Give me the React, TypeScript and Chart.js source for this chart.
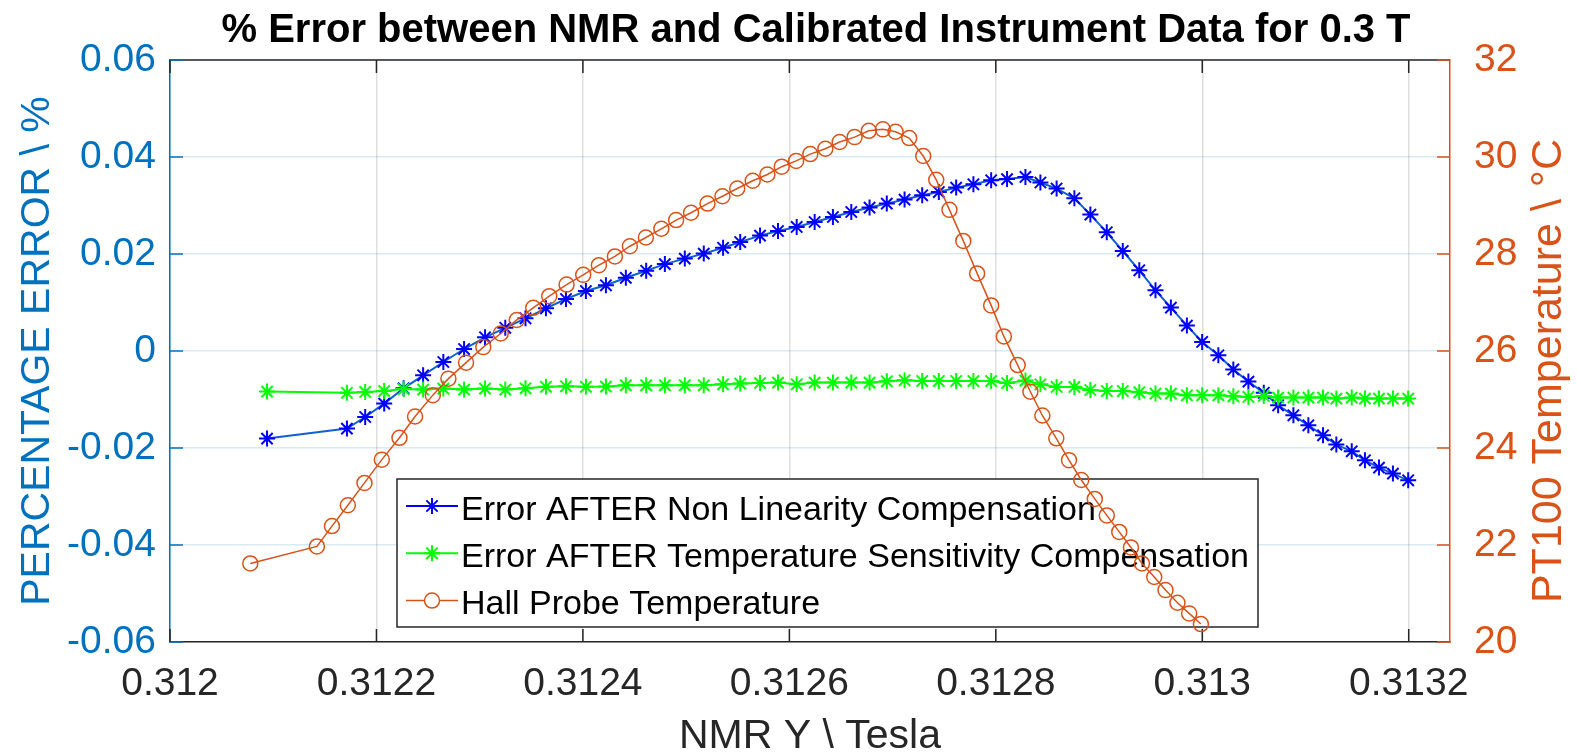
import React, { useEffect, useRef } from 'react';
import { Chart, registerables } from 'chart.js';

Chart.register(...registerables);

// ---------- data ----------
const titleText = '% Error between NMR and Calibrated Instrument Data for 0.3 T';
const xAxisLabel = 'NMR Y \\ Tesla';
const leftAxisLabel = 'PERCENTAGE ERROR \\ %';
const rightAxisLabel = 'PT100 Temperature \\ °C';
const seriesNames = [
  'Error AFTER Non Linearity Compensation',
  'Error AFTER Temperature Sensitivity Compensation',
  'Hall Probe Temperature',
];

const xTickValues = [0.312, 0.3122, 0.3124, 0.3126, 0.3128, 0.313, 0.3132];
const xTickLabels = ['0.312', '0.3122', '0.3124', '0.3126', '0.3128', '0.313', '0.3132'];
const leftTickValues = [-0.06, -0.04, -0.02, 0, 0.02, 0.04, 0.06];
const leftTickLabels = ['-0.06', '-0.04', '-0.02', '0', '0.02', '0.04', '0.06'];
const rightTickValues = [20, 22, 24, 26, 28, 30, 32];
const rightTickLabels = ['20', '22', '24', '26', '28', '30', '32'];

// NMR field for the two error series
const errorX = [
  0.312094, 0.3121714, 0.3121891, 0.3122075, 0.3122263, 0.3122452, 0.3122648, 0.3122849, 0.3123052, 0.3123248,
  0.3123444, 0.3123642, 0.3123836, 0.3124029, 0.3124223, 0.3124416, 0.3124613, 0.3124794, 0.3124987, 0.3125171,
  0.3125358, 0.3125524, 0.3125716, 0.312589, 0.3126071, 0.3126245, 0.3126422, 0.31266, 0.3126777, 0.3126944,
  0.3127116, 0.3127287, 0.3127448, 0.3127616, 0.3127783, 0.3127955, 0.3128109, 0.3128287, 0.3128432, 0.3128589,
  0.3128761, 0.3128916, 0.3129075, 0.312923, 0.312939, 0.3129547, 0.3129696, 0.3129851, 0.3129999, 0.3130156,
  0.3130301, 0.3130447, 0.3130596, 0.3130735, 0.3130883, 0.3131028, 0.313117, 0.3131299, 0.3131448, 0.3131576,
  0.3131712, 0.3131847, 0.3131995,
];
const nonLinErr = [
  -0.01806, -0.016, -0.01361, -0.01085, -0.00769, -0.00501, -0.00227, 0.00041, 0.00282, 0.00478,
  0.00674, 0.0088, 0.01072, 0.01237, 0.01355, 0.01509, 0.01654, 0.01792, 0.01905, 0.02008,
  0.02128, 0.02247, 0.02379, 0.02474, 0.02557, 0.0266, 0.02763, 0.02866, 0.02957, 0.03039,
  0.03122, 0.0321, 0.03278, 0.03369, 0.03437, 0.0352, 0.03544, 0.03588, 0.03474, 0.03349,
  0.03149, 0.02812, 0.02447, 0.02062, 0.01664, 0.01252, 0.00895, 0.00524, 0.00186, -0.00089,
  -0.00381, -0.00631, -0.00862, -0.0112, -0.01326, -0.01532, -0.01738, -0.0193, -0.02068, -0.02254,
  -0.02404, -0.02528, -0.02666,
];
const tempSensErr = [
  -0.00837, -0.00862, -0.00845, -0.00825, -0.00786, -0.00796, -0.00775, -0.00796, -0.00775, -0.00796,
  -0.00769, -0.00738, -0.00728, -0.00738, -0.00734, -0.00707, -0.00707, -0.00707, -0.00707, -0.00707,
  -0.00687, -0.00672, -0.0066, -0.00652, -0.00687, -0.00652, -0.00652, -0.00652, -0.00652, -0.00625,
  -0.00604, -0.00619, -0.00619, -0.00619, -0.00619, -0.00619, -0.0066, -0.0061, -0.00687, -0.00742,
  -0.00742, -0.00804, -0.00825, -0.00825, -0.00852, -0.00878, -0.00878, -0.00913, -0.00913, -0.00913,
  -0.00934, -0.00948, -0.00928, -0.00961, -0.00961, -0.00961, -0.00961, -0.00981, -0.00961, -0.00981,
  -0.00981, -0.00981, -0.00981,
];

// NMR field and probe temperature
const tempX = [
  0.3120778, 0.3121423, 0.3121569, 0.3121723, 0.3121884, 0.3122052, 0.3122223, 0.3122374, 0.3122546, 0.3122697,
  0.3122868, 0.3123035, 0.3123204, 0.3123359, 0.3123519, 0.3123674, 0.3123842, 0.3124003, 0.3124155, 0.312431,
  0.3124455, 0.312461, 0.312476, 0.3124903, 0.3125048, 0.3125207, 0.3125352, 0.3125495, 0.3125645, 0.3125787,
  0.3125926, 0.3126066, 0.3126203, 0.3126349, 0.3126487, 0.3126632, 0.312677, 0.3126906, 0.3127029, 0.3127161,
  0.3127297, 0.3127423, 0.3127551, 0.3127685, 0.3127819, 0.3127955, 0.3128078, 0.3128212, 0.3128335, 0.3128451,
  0.3128586, 0.3128709, 0.3128828, 0.3128959, 0.3129075, 0.3129196, 0.3129309, 0.3129416, 0.3129535, 0.3129644,
  0.312976, 0.3129873, 0.3129987,
];
const probeTemp = [
  21.62, 21.97, 22.39, 22.82, 23.28, 23.76, 24.21, 24.65, 25.09, 25.43,
  25.76, 26.08, 26.36, 26.64, 26.89, 27.13, 27.37, 27.57, 27.77, 27.95,
  28.16, 28.34, 28.52, 28.7, 28.85, 29.04, 29.19, 29.35, 29.51, 29.64,
  29.8, 29.92, 30.06, 30.17, 30.31, 30.41, 30.54, 30.57, 30.52, 30.39,
  30.02, 29.53, 28.91, 28.27, 27.6, 26.94, 26.3, 25.71, 25.16, 24.67,
  24.2, 23.75, 23.34, 22.95, 22.61, 22.27, 21.95, 21.62, 21.34, 21.07,
  20.81, 20.59, 20.37,
];

// ---------- style ----------
const FONT = '"Liberation Sans", Arial, Helvetica, sans-serif';
const LEFT_COLOR = '#0072BD';
const RIGHT_COLOR = '#D95319';
const AXIS_DARK = '#262626';

function drawStar(ctx: CanvasRenderingContext2D, x: number, y: number, r: number) {
  const d = Math.cos(Math.PI / 4) * r;
  ctx.beginPath();
  ctx.moveTo(x, y - r); ctx.lineTo(x, y + r);
  ctx.moveTo(x - r, y); ctx.lineTo(x + r, y);
  ctx.moveTo(x - d, y - d); ctx.lineTo(x + d, y + d);
  ctx.moveTo(x - d, y + d); ctx.lineTo(x + d, y - d);
  ctx.stroke();
}

const decorPlugin = {
  id: 'matlabDecor',
  beforeDatasetsDraw(chart: any) {
    const { ctx, chartArea: a, scales } = chart;
    ctx.save();
    ctx.lineWidth = 1.5;
    // top box line
    ctx.strokeStyle = AXIS_DARK;
    ctx.beginPath();
    ctx.moveTo(a.left, a.top);
    ctx.lineTo(a.right, a.top);
    ctx.stroke();
    // inward x ticks (top and bottom)
    const tl = 13;
    scales.x.ticks.forEach((t: any) => {
      const px = scales.x.getPixelForValue(t.value);
      ctx.beginPath();
      ctx.moveTo(px, a.bottom); ctx.lineTo(px, a.bottom - tl);
      ctx.moveTo(px, a.top); ctx.lineTo(px, a.top + tl);
      ctx.stroke();
    });
    ctx.strokeStyle = LEFT_COLOR;
    scales.y.ticks.forEach((t: any) => {
      const py = scales.y.getPixelForValue(t.value);
      ctx.beginPath();
      ctx.moveTo(a.left, py); ctx.lineTo(a.left + tl, py);
      ctx.stroke();
    });
    ctx.strokeStyle = RIGHT_COLOR;
    scales.y1.ticks.forEach((t: any) => {
      const py = scales.y1.getPixelForValue(t.value);
      ctx.beginPath();
      ctx.moveTo(a.right, py); ctx.lineTo(a.right - tl, py);
      ctx.stroke();
    });

    // legend (under the data, over the grid)
    const bx = 397, by = 479, bw = 861, bh = 148;
    ctx.fillStyle = '#ffffff';
    ctx.fillRect(bx, by, bw, bh);
    ctx.strokeStyle = AXIS_DARK;
    ctx.lineWidth = 1.5;
    ctx.strokeRect(bx, by, bw, bh);
    const rows = [506, 553.3, 600.6];
    ctx.font = `34px ${FONT}`;
    ctx.textAlign = 'left';
    ctx.textBaseline = 'alphabetic';
    chart.data.datasets.forEach((ds: any, i: number) => {
      const y = rows[i];
      ctx.strokeStyle = ds.legendLine || ds.borderColor;
      ctx.lineWidth = ds.borderWidth;
      ctx.beginPath();
      ctx.moveTo(406, y);
      ctx.lineTo(458, y);
      ctx.stroke();
      ctx.strokeStyle = ds.pointBorderColor;
      ctx.lineWidth = ds.pointBorderWidth;
      if (ds.pointStyle === 'star') {
        drawStar(ctx, 432, y, ds.pointRadius);
      } else {
        ctx.fillStyle = '#ffffff';
        ctx.beginPath();
        ctx.arc(432, y, ds.pointRadius, 0, Math.PI * 2);
        ctx.fill();
        ctx.stroke();
      }
      ctx.fillStyle = '#000000';
      ctx.fillText(ds.label, 461, y + 13.5);
    });
    ctx.restore();
  },
  afterDraw(chart: any) {
    const { ctx } = chart;
    ctx.save();
    // title
    ctx.fillStyle = '#000000';
    ctx.font = `bold 40px ${FONT}`;
    ctx.textAlign = 'center';
    ctx.textBaseline = 'alphabetic';
    ctx.fillText(titleText, 816, 42);

    // right axis label (reads bottom-to-top)
    ctx.translate(1549, 371);
    ctx.rotate(-Math.PI / 2);
    ctx.fillStyle = RIGHT_COLOR;
    ctx.font = `43px ${FONT}`;
    ctx.textAlign = 'center';
    ctx.textBaseline = 'middle';
    ctx.fillText(rightAxisLabel, 0, 0);
    ctx.restore();
  },
};

export default function App() {
  const canvasRef = useRef<HTMLCanvasElement | null>(null);

  useEffect(() => {
    const canvas = canvasRef.current;
    if (!canvas) return;
    const chart = new Chart(canvas, {
      type: 'line',
      data: {
        datasets: [
          {
            label: seriesNames[0],
            data: errorX.map((x, i) => ({ x, y: nonLinErr[i] })),
            yAxisID: 'y',
            borderColor: '#1060D0',
            legendLine: '#0000FF',
            borderWidth: 2,
            pointStyle: 'star',
            pointRadius: 8,
            pointBorderColor: '#0000FF',
            pointBackgroundColor: '#0000FF',
            pointBorderWidth: 2,
            tension: 0,
            order: 2,
          } as any,
          {
            label: seriesNames[1],
            data: errorX.map((x, i) => ({ x, y: tempSensErr[i] })),
            yAxisID: 'y',
            borderColor: '#00FF00',
            borderWidth: 2,
            pointStyle: 'star',
            pointRadius: 8,
            pointBorderColor: '#00FF00',
            pointBackgroundColor: '#00FF00',
            pointBorderWidth: 2,
            tension: 0,
            order: 1,
          } as any,
          {
            label: seriesNames[2],
            data: tempX.map((x, i) => ({ x, y: probeTemp[i] })),
            yAxisID: 'y1',
            borderColor: RIGHT_COLOR,
            borderWidth: 1.5,
            pointStyle: 'circle',
            pointRadius: 7.5,
            pointBorderColor: RIGHT_COLOR,
            pointBackgroundColor: 'rgba(0,0,0,0)',
            pointBorderWidth: 1.5,
            tension: 0,
            order: 0,
          } as any,
        ],
      },
      options: {
        animation: false,
        responsive: false,
        maintainAspectRatio: false,
        layout: { padding: { top: 60, left: 0, right: 0, bottom: 0 } },
        plugins: {
          legend: { display: false },
          title: { display: false },
          tooltip: { enabled: false },
        },
        scales: {
          x: {
            type: 'linear',
            position: 'bottom',
            min: 0.312,
            max: 0.31324,
            afterFit: (s: any) => { s.height = 110; },
            afterBuildTicks: (s: any) => { s.ticks = xTickValues.map((v) => ({ value: v })); },
            ticks: {
              autoSkip: false,
              maxRotation: 0,
              includeBounds: false,
              padding: 19,
              color: AXIS_DARK,
              font: { family: FONT, size: 39 },
              callback: (_v: any, i: number) => xTickLabels[i],
            },
            grid: { color: 'rgba(38,38,38,0.15)', lineWidth: 1.5, drawTicks: false },
            border: { display: true, color: AXIS_DARK, width: 1.5 },
            title: {
              display: true,
              text: xAxisLabel,
              color: AXIS_DARK,
              font: { family: FONT, size: 41, lineHeight: 0.8 },
              padding: { top: 0, bottom: -1 },
            },
          },
          y: {
            type: 'linear',
            position: 'left',
            min: -0.06,
            max: 0.06,
            afterFit: (s: any) => { s.width = 170; },
            afterBuildTicks: (s: any) => { s.ticks = leftTickValues.map((v) => ({ value: v })); },
            ticks: {
              includeBounds: false,
              padding: 14,
              color: LEFT_COLOR,
              font: { family: FONT, size: 39 },
              callback: (_v: any, i: number) => leftTickLabels[i],
            },
            grid: { color: 'rgba(0,114,189,0.15)', lineWidth: 1.5, drawTicks: false },
            border: { display: true, color: LEFT_COLOR, width: 1.5 },
            title: {
              display: true,
              text: leftAxisLabel,
              color: LEFT_COLOR,
              font: { family: FONT, size: 41, lineHeight: 1.2 },
              padding: { top: 13, bottom: 0 },
            },
          },
          y1: {
            type: 'linear',
            position: 'right',
            min: 20,
            max: 32,
            afterFit: (s: any) => { s.width = 127; },
            afterBuildTicks: (s: any) => { s.ticks = rightTickValues.map((v) => ({ value: v })); },
            ticks: {
              includeBounds: false,
              padding: 24,
              color: RIGHT_COLOR,
              font: { family: FONT, size: 39 },
              callback: (_v: any, i: number) => rightTickLabels[i],
            },
            grid: { display: false, drawTicks: false },
            border: { display: true, color: RIGHT_COLOR, width: 1.5 },
          },
        },
      } as any,
      plugins: [decorPlugin],
    });
    return () => chart.destroy();
  }, []);

  return (
    <div style={{ position: 'fixed', left: 0, top: 0, width: 1577, height: 752, background: '#ffffff' }}>
      <canvas ref={canvasRef} width={1577} height={752} style={{ display: 'block' }} />
    </div>
  );
}
